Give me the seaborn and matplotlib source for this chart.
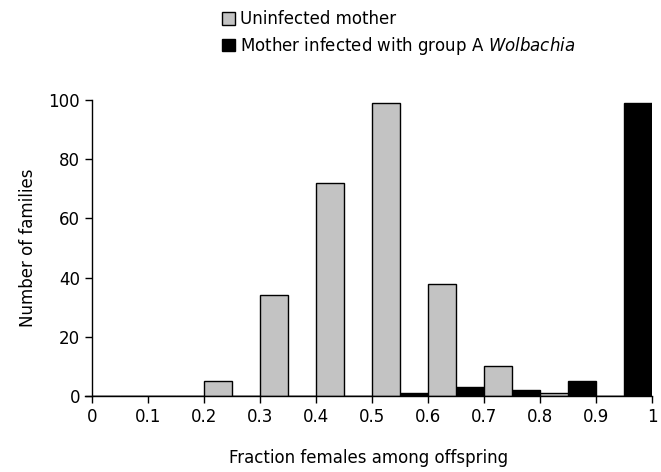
import numpy as np
import pandas as pd
import matplotlib.pyplot as plt
import seaborn as sns
from matplotlib.patches import Patch

# bin left edges (width 0.05) and family counts
uninf_bins = [0.20, 0.30, 0.40, 0.50, 0.60, 0.70, 0.80]
uninf_counts = [5, 34, 72, 99, 38, 10, 1]
inf_bins = [0.55, 0.65, 0.75, 0.85, 0.95]
inf_counts = [1, 3, 2, 5, 99]
x_ticks = [0, 0.1, 0.2, 0.3, 0.4, 0.5, 0.6, 0.7, 0.8, 0.9, 1]
x_ticklabels = ["0", "0.1", "0.2", "0.3", "0.4", "0.5", "0.6", "0.7", "0.8", "0.9", "1"]
y_ticks = [0, 20, 40, 60, 80, 100]

BIN_W = 0.05
GRAY = "#c3c3c3"

df = pd.concat([
    pd.DataFrame({"fraction": np.array(uninf_bins) + BIN_W / 2, "count": uninf_counts,
                  "group": "Uninfected mother"}),
    pd.DataFrame({"fraction": np.array(inf_bins) + BIN_W / 2, "count": inf_counts,
                  "group": "Infected"}),
], ignore_index=True)

sns.set_style("white")
plt.rcParams["font.family"] = ["DejaVu Sans"]
plt.rcParams.update({"text.color": "black", "axes.labelcolor": "black",
                     "xtick.color": "black", "ytick.color": "black"})

fig = plt.figure(figsize=(6.61, 4.72), dpi=100)
ax = fig.add_axes([0.128, 0.161, 0.859, 0.627])

edges = [round(i * BIN_W, 4) for i in range(21)]
sns.histplot(data=df, x="fraction", weights="count", hue="group", bins=edges,
             multiple="layer", palette={"Uninfected mother": GRAY, "Infected": "black"},
             alpha=1, edgecolor="black", linewidth=1, legend=False, ax=ax)

ax.set_xlim(-0.013, 1.0)
ax.set_ylim(0, 100)
ax.set_xticks(x_ticks)
ax.set_xticklabels(x_ticklabels)
ax.set_yticks(y_ticks)
ax.tick_params(axis="both", direction="out", length=5, width=1, color="black",
               labelcolor="black", labelsize=12, bottom=True, left=True)
for side in ["top", "right"]:
    ax.spines[side].set_visible(False)
for side in ["left", "bottom"]:
    ax.spines[side].set_color("black")
    ax.spines[side].set_linewidth(1)
# y axis sits at x = 0, the x axis runs a little further left
ax.spines["left"].set_position(("data", 0))

ax.set_xlabel("Fraction females among offspring", fontsize=12, labelpad=17)
ax.set_ylabel("Number of families", fontsize=12, labelpad=8)

handles = [Patch(facecolor=GRAY, edgecolor="black"), Patch(facecolor="black", edgecolor="black")]
labels = ["Uninfected mother", "Mother infected with group A $\\it{Wolbachia}$"]
fig.legend(handles, labels, loc="upper left", bbox_to_anchor=(0.32, 1.0), frameon=False,
           fontsize=12, handlelength=0.8, handleheight=0.8, handletextpad=0.3,
           labelspacing=0.4, borderaxespad=0.2)

fig.savefig("out.png", dpi=100)
